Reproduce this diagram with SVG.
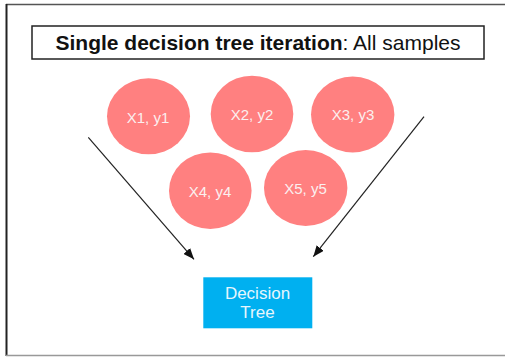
<svg xmlns="http://www.w3.org/2000/svg" width="505" height="357" viewBox="0 0 505 357">
<style>
.frame{fill:none}
.sample{fill:#FF8080}
.stxt{font-family:"Liberation Sans",Arial,sans-serif;font-size:15px;fill:#FBEFEF;text-anchor:middle}
.dtxt{font-family:"Liberation Sans",Arial,sans-serif;font-size:17px;fill:#E6F6FD;text-anchor:middle}
.conn{stroke:#222;stroke-width:1.2;fill:none}
</style>
<defs>
<marker id="ah" viewBox="0 0 10 8" refX="10" refY="4" markerWidth="11" markerHeight="9" markerUnits="userSpaceOnUse" orient="auto">
<path d="M0,0 L10,4 L0,8 Z" fill="#111"/>
</marker>
</defs>
<rect width="505" height="357" fill="#fff"/>
<g id="frame">
<line x1="6" y1="4.5" x2="505" y2="4.5" stroke="#555" stroke-width="1.5"/>
<line x1="6.5" y1="4" x2="6.5" y2="356" stroke="#222" stroke-width="2"/>
<line x1="6" y1="355.5" x2="505" y2="355.5" stroke="#999" stroke-width="1.5"/>
</g>
<g id="title">
<rect x="32" y="26" width="452" height="33" fill="#fff" stroke="#222" stroke-width="1.5"/>
<text x="258" y="50" font-family="'Liberation Sans',Arial,sans-serif" font-size="21" fill="#111" text-anchor="middle"><tspan font-weight="bold">Single decision tree iteration</tspan>: All samples</text>
</g>
<g id="connectors">
<line class="conn" x1="88.3" y1="137.3" x2="194" y2="259.3" marker-end="url(#ah)"/>
<line class="conn" x1="424" y1="116.7" x2="313.3" y2="256.7" marker-end="url(#ah)"/>
</g>
<g id="s1"><ellipse class="sample" cx="148.5" cy="116.3" rx="41.5" ry="38"/><text class="stxt" x="148" y="122.5">X1, y1</text></g>
<g id="s2"><ellipse class="sample" cx="252" cy="114" rx="41.3" ry="38.3"/><text class="stxt" x="252" y="120">X2, y2</text></g>
<g id="s3"><ellipse class="sample" cx="352.7" cy="114.5" rx="41.7" ry="38"/><text class="stxt" x="353" y="120">X3, y3</text></g>
<g id="s4"><ellipse class="sample" cx="210.3" cy="190.7" rx="41.3" ry="38.3"/><text class="stxt" x="210" y="196.7">X4, y4</text></g>
<g id="s5"><ellipse class="sample" cx="305.7" cy="188" rx="41.7" ry="38"/><text class="stxt" x="305.5" y="194">X5, y5</text></g>
<g id="tree"><rect x="203.3" y="277.3" width="109" height="51" fill="#00B0F0"/><text class="dtxt" x="257.5" y="299.3">Decision</text><text class="dtxt" x="257.5" y="317.7">Tree</text></g>
</svg>
